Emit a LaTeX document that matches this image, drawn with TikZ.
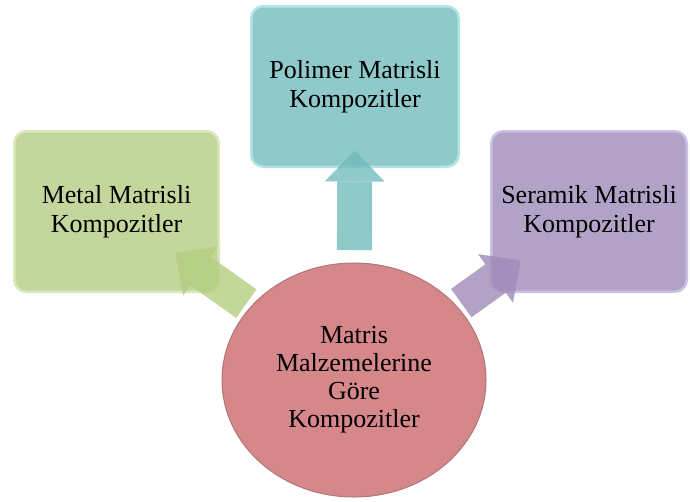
\documentclass[tikz,border=0pt]{standalone}
\usepackage{fontspec}
\setmainfont{Liberation Serif}
\usepackage{tikz}
\usetikzlibrary{arrows.meta,shapes.geometric,backgrounds,calc}

\definecolor{metalgreen}{RGB}{195,214,155}
\definecolor{metaledge}{RGB}{218,232,190}
\definecolor{metalarrow}{RGB}{178,206,128}
\definecolor{polyteal}{RGB}{143,201,202}
\definecolor{polyedge}{RGB}{178,228,230}
\definecolor{polyarrow}{RGB}{115,187,188}
\definecolor{serampurple}{RGB}{178,162,199}
\definecolor{seramedge}{RGB}{205,192,224}
\definecolor{seramarrow}{RGB}{159,139,185}
\definecolor{corered}{RGB}{214,135,137}
\definecolor{coreedge}{RGB}{176,118,120}

\begin{document}
\begin{tikzpicture}[x=1pt, y=-1pt,
            box/.style = {shape=rectangle, rounded corners=12pt,
                          draw, line width=2.5pt, align=center,
                          minimum height=160.5pt,
                          font=\fontsize{26}{29}\selectfont},
            blockarrow/.style = {line width=35pt, opacity=0.8,
                          -{Triangle[width=60pt,length=31pt,line width=0pt]}}]
            \useasboundingbox (0,0) rectangle (690,501);
            \node (core) at (354,380) [shape=ellipse, draw=coreedge, fill=corered,
                          line width=1pt, inner sep=0pt, align=center,
                          minimum width=264pt, minimum height=234pt,
                          font=\fontsize{26}{28}\selectfont]
                          {Matris\\Malzemelerine\\Göre\\Kompozitler};
            \begin{scope}[on background layer]
            \node (metal) at (116.5,211.5) [box, draw=metaledge, fill=metalgreen,
                          minimum width=204.5pt] {Metal Matrisli\\Kompozitler};
            \node (poly) at (355,86.5) [box, draw=polyedge, fill=polyteal,
                          minimum width=207.5pt] {Polimer Matrisli\\Kompozitler};
            \node (seram) at (589,211.5) [box, draw=seramedge, fill=serampurple,
                          minimum width=195.5pt] {Seramik Matrisli\\Kompozitler};
            \draw[blockarrow, metalarrow]
                ($(core.center)!132pt!(metal.center)$) -- ($(metal.center)!72pt!(core.center)$);
            \draw[blockarrow, polyarrow]
                ($(core.center)!130pt!(poly.center)$) -- ($(poly.center)!64pt!(core.center)$);
            \draw[blockarrow, seramarrow]
                ($(core.center)!132pt!(seram.center)$) -- ($(seram.center)!84pt!(core.center)$);
            \end{scope}
        \end{tikzpicture}
\end{document}
